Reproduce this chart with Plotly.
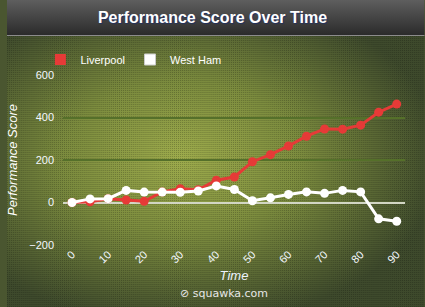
import plotly.graph_objects as go
import urllib.parse

# ---- data ----
minutes = [0, 5, 10, 15, 20, 25, 30, 35, 40, 45, 50, 55, 60, 65, 70, 75, 80, 85, 90]
liverpool = [0, 3, 18, 12, 6, 50, 65, 60, 105, 120, 192, 225, 266, 312, 346, 345, 364, 425, 463]
west_ham = [0, 17, 18, 57, 49, 49, 48, 54, 78, 61, 8, 22, 38, 50, 43, 57, 50, -77, -88]
x_ticks = [0, 10, 20, 30, 40, 50, 60, 70, 80, 90]
y_ticks = [-200, 0, 200, 400, 600]

W, H = 425, 307
ML, MR, MT, MB = 57, 20, 75, 62
PW, PH = W - ML - MR, H - MT - MB

svg = f'''<svg xmlns="http://www.w3.org/2000/svg" width="{W}" height="{H}" viewBox="0 0 {W} {H}">
<defs>
<linearGradient id="tb" x1="0" y1="0" x2="0" y2="1">
<stop offset="0" stop-color="#5e5e5e"/><stop offset="1" stop-color="#2b2b2b"/></linearGradient>
<radialGradient id="bg" cx="0.42" cy="0.45" r="0.62" gradientUnits="objectBoundingBox">
<stop offset="0" stop-color="#9eac4c"/><stop offset="0.45" stop-color="#7c8c3e"/><stop offset="1" stop-color="#3e4a2c"/></radialGradient>
<pattern id="dots" width="2" height="2" patternUnits="userSpaceOnUse">
<rect x="0" y="0" width="1" height="1" fill="#000" fill-opacity="0.22"/></pattern>
</defs>
<rect x="0" y="36" width="{W}" height="{H-36}" fill="url(#bg)"/>
<rect x="0" y="36" width="{W}" height="{H-36}" fill="url(#dots)"/>
<rect x="0" y="0" width="{W}" height="35" fill="url(#tb)"/>
<rect x="0" y="35" width="{W}" height="1" fill="#8c8c8c"/>
</svg>'''
src = "data:image/svg+xml;charset=utf-8," + urllib.parse.quote(svg)

RED = "#e63a37"
WHITE = "#ffffff"

fig = go.Figure()
fig.add_trace(go.Scatter(x=minutes, y=liverpool, mode="lines+markers", name="Liverpool",
                         line=dict(color=RED, width=3), marker=dict(color=RED, size=9),
                         showlegend=False))
fig.add_trace(go.Scatter(x=minutes, y=west_ham, mode="lines+markers", name="West Ham",
                         line=dict(color=WHITE, width=3), marker=dict(color=WHITE, size=9),
                         showlegend=False))
# legend entries (square swatches)
fig.add_trace(go.Scatter(x=[None], y=[None], mode="markers", name="Liverpool",
                         marker=dict(color=RED, size=11, symbol="square")))
fig.add_trace(go.Scatter(x=[None], y=[None], mode="markers", name="West Ham",
                         marker=dict(color=WHITE, size=11, symbol="square",
                                     line=dict(color="#cccccc", width=1))))

tickfont = dict(family="Liberation Sans, Arial", size=11, color="#f4f8ff")

fig.update_layout(
    width=W, height=H,
    margin=dict(l=ML, r=MR, t=MT, b=MB),
    paper_bgcolor="#4a5630",
    plot_bgcolor="rgba(0,0,0,0)",
    images=[dict(source=src, xref="paper", yref="paper",
                 x=-ML / PW, y=1 + MT / PH, sizex=W / PW, sizey=H / PH,
                 xanchor="left", yanchor="top", sizing="stretch", layer="below")],
    title=dict(text="<b>Performance Score Over Time</b>", x=0.5, xanchor="center",
               y=1 - 17.5 / H, yanchor="middle", yref="container",
               font=dict(family="Liberation Sans, Arial", size=16, color="#ffffff",
                         shadow="1px 1px 1px #203060")),
    showlegend=True,
    legend=dict(orientation="h", x=-ML / PW + 34 / PW, xanchor="left",
                y=1 + (MT - 45) / PH, yanchor="top",
                font=dict(family="Liberation Sans, Arial", size=11, color="#ffffff"),
                bgcolor="rgba(0,0,0,0)", itemclick=False, traceorder="normal"),
    xaxis=dict(range=[-2.5, 92.3], tickvals=x_ticks, tickangle=-45, showgrid=False,
               zeroline=False, showline=False, ticks="", tickfont=tickfont,
               title=dict(text="<i>Time</i>", standoff=6,
                          font=dict(family="Liberation Sans, Arial", size=13, color="#eef4ff"))),
    yaxis=dict(range=[-200, 600], tickvals=y_ticks, showgrid=True, gridcolor="#55702a",
               gridwidth=1.5, zeroline=True, zerolinecolor="#d2d6c4", zerolinewidth=2,
               showline=False, ticks="", tickfont=tickfont, ticklabelstandoff=8,
               title=dict(text="<i>Performance Score</i>", standoff=8,
                          font=dict(family="Liberation Sans, Arial", size=13, color="#ffffff"))),
    annotations=[dict(text="⊘ squawka.com", xref="paper", yref="paper",
                      x=0.5 - 10 / PW, y=-(293 - MT - PH) / PH, xanchor="center", yanchor="middle",
                      showarrow=False,
                      font=dict(family="DejaVu Sans, Verdana", size=11, color="#e6e6e6"))],
)

fig.write_html("out.html")
